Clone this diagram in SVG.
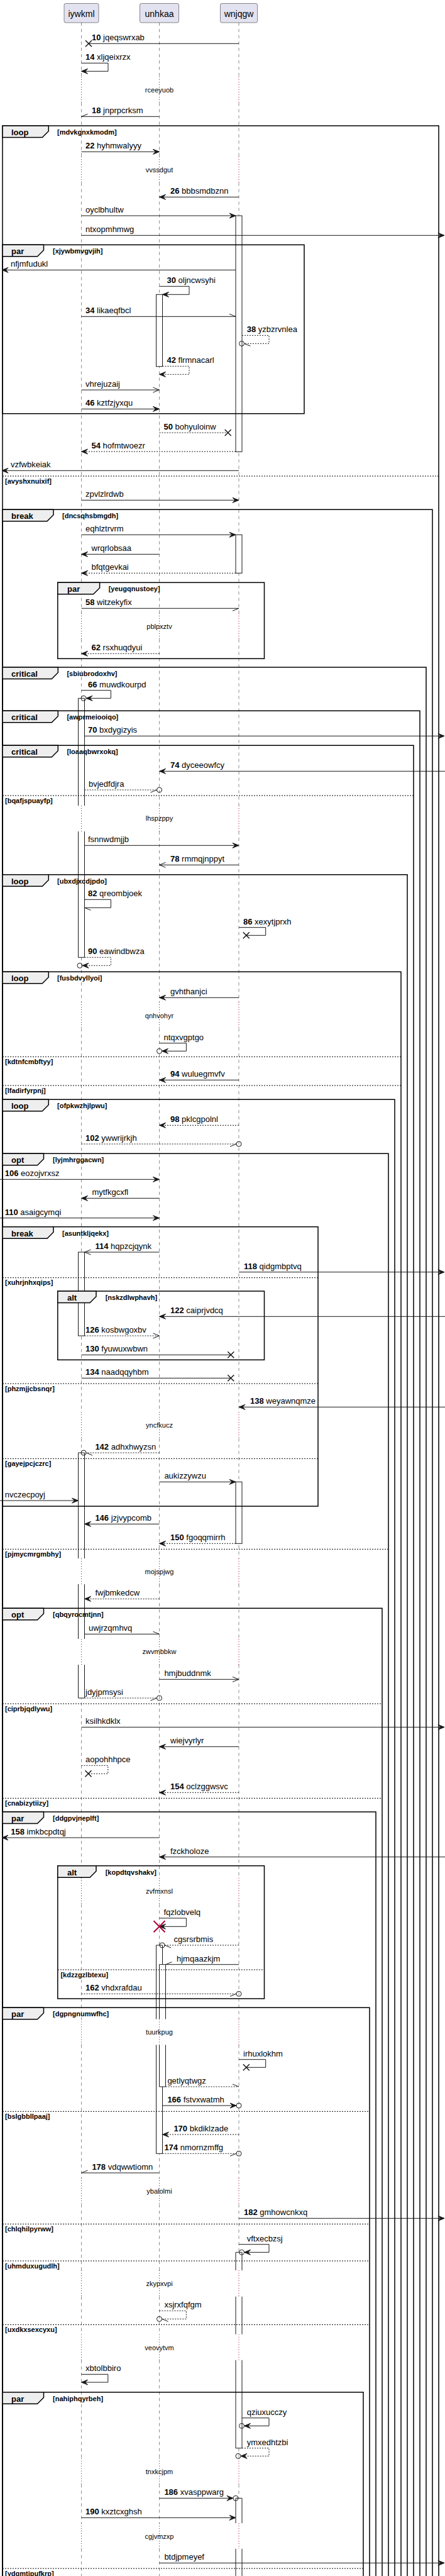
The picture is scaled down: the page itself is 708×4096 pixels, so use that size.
<svg xmlns="http://www.w3.org/2000/svg" width="708" height="4096" viewBox="0 0 708 4096">
<style>
text{font-family:"Liberation Sans",Arial,sans-serif;fill:#000}
.m{font-size:13px}
.b{font-weight:bold}
.d{font-size:11px}
.g{font-size:11px;font-weight:bold}
.t{font-size:13px;font-weight:bold}
.p{font-size:14px}
.ln{stroke:#181818;stroke-width:1;fill:none}
.ds{stroke-dasharray:2,2}
.fr{fill:none;stroke:#000;stroke-width:1.5}
.tab{fill:#EEEEEE;stroke:#000;stroke-width:1.5}
.sep{stroke:#000;stroke-width:1;stroke-dasharray:2,2;fill:none}
.ll{stroke:#181818;stroke-width:0.5;stroke-dasharray:5,5;fill:none}
.dl{stroke:#A80036;stroke-width:1;stroke-dasharray:1,3;fill:none}
.act{fill:none;stroke:#181818;stroke-width:1}
.af{fill:#fff;stroke:none}
.pb{fill:#E2E2F0;stroke:#181818;stroke-width:0.5}
</style>
<defs>
<polygon id="hf" points="-10,-4 0,0 -10,4 -6,0" fill="#181818" stroke="#181818" stroke-width="1"/>
<path id="ho" d="M-10,-4 L0,0 L-10,4" fill="none" stroke="#181818" stroke-width="1"/>
<path id="hu" d="M-10,-4 L0,0" fill="none" stroke="#181818" stroke-width="1"/>
<path id="hl" d="M-10,4 L0,0" fill="none" stroke="#181818" stroke-width="1"/>
<path id="hx" d="M-5,-5 L5,5 M-5,5 L5,-5" fill="none" stroke="#181818" stroke-width="1.5"/>
<circle id="hc" r="4" fill="none" stroke="#181818" stroke-width="1"/>
<path id="llp" class="ll" d="M0,36V122M0,163.5V249M0,290.5V975M0,1016.5V1281M0,1322V1593M0,1635V2245M0,2287V2478M0,2519V2606M0,2647V2986M0,3027.7V3210.5M0,3251.5V3463M0,3505V3610M0,3651.7V3711.7M0,3752.7V3908.7M0,3950.3V4012M0,4052.7V4096"/>
<path id="dlp" class="dl" d="M0,122V163.5M0,249V290.5M0,975V1016.5M0,1281V1322M0,1593V1635M0,2245V2287M0,2478V2519M0,2606V2647M0,2986V3027.7M0,3210.5V3251.5M0,3463V3505M0,3610V3651.7M0,3711.7V3752.7M0,3908.7V3950.3M0,4012V4052.7"/>
</defs>
<rect width="708" height="4096" fill="#fff"/>

<g id="lifelines">
<use href="#llp" x="129.5"/><use href="#llp" x="253.5"/><use href="#llp" x="380"/>
<use href="#dlp" x="129.5"/><use href="#dlp" x="253.5"/><use href="#dlp" x="380"/>
</g>

<g id="p-iywkml"><rect class="pb" x="102" y="5.5" width="55" height="30.5" rx="2.5"/><text class="p" x="129.5" y="26.5" text-anchor="middle">iywkml</text></g>
<g id="p-unhkaa"><rect class="pb" x="222.5" y="5.5" width="62" height="30.5" rx="2.5"/><text class="p" x="253.5" y="26.5" text-anchor="middle">unhkaa</text></g>
<g id="p-wnjqgw"><rect class="pb" x="350.5" y="5.5" width="59" height="30.5" rx="2.5"/><text class="p" x="380" y="26.5" text-anchor="middle">wnjqgw</text></g>

<g id="activations">
<rect class="af" x="375" y="343" width="10" height="375.3"/><rect class="act" x="375" y="343" width="10" height="375.3"/>
<rect class="af" x="248.5" y="468.3" width="10" height="114.4"/><rect class="act" x="248.5" y="468.3" width="10" height="114.4"/>
<rect class="af" x="375" y="850.3" width="10" height="61"/><rect class="act" x="375" y="850.3" width="10" height="61"/>
<rect class="af" x="124.5" y="1110.3" width="10" height="170.7"/><path class="act" d="M124.5,1281V1110.3H134.5V1281"/>
<rect class="af" x="124.5" y="1322" width="10" height="200.3"/><path class="act" d="M124.5,1322V1522.3H134.5V1322"/>
<rect class="af" x="124.5" y="1991" width="10" height="133"/><rect class="act" x="124.5" y="1991" width="10" height="133"/>
<rect class="af" x="124.5" y="2310" width="10" height="168"/><path class="act" d="M124.5,2478V2310H134.5V2478"/>
<rect class="af" x="124.5" y="2519" width="10" height="87"/><path class="act" d="M124.5,2519V2606M134.5,2519V2606"/>
<rect class="af" x="124.5" y="2647" width="10" height="53"/><path class="act" d="M124.5,2647V2700H134.5V2647"/>
<rect class="af" x="375" y="2356.3" width="10" height="98"/><rect class="act" x="375" y="2356.3" width="10" height="98"/>
<rect class="af" x="248.5" y="3093" width="10" height="117.5"/><path class="act" d="M248.5,3210.5V3093H258.5V3210.5"/>
<rect class="af" x="248.5" y="3251.5" width="10" height="172.8"/><path class="act" d="M248.5,3251.5V3424.3H258.5V3251.5"/>
<rect class="af" x="253.5" y="3123.7" width="10" height="86.8"/><path class="act" d="M253.5,3210.5V3123.7H263.5V3210.5"/>
<rect class="af" x="253.5" y="3251.5" width="10" height="66.5"/><path class="act" d="M253.5,3251.5V3318H263.5V3251.5"/>
<rect class="af" x="375" y="3581.3" width="10" height="28.7"/><path class="act" d="M375,3610V3581.3H385V3610"/>
<rect class="af" x="375" y="3651.7" width="10" height="60"/><path class="act" d="M375,3651.7V3711.7M385,3651.7V3711.7"/>
<rect class="af" x="375" y="3752.7" width="10" height="140"/><path class="act" d="M375,3752.7V3892.7H385V3752.7"/>
<rect class="af" x="375" y="3972.3" width="10" height="39.7"/><path class="act" d="M375,4012V3972.3H385V4012"/>
<rect class="af" x="375" y="4052.7" width="10" height="50"/><path class="act" d="M375,4052.7V4100M385,4052.7V4100"/>
</g>

<g id="frames">
<g id="f-loop1"><path class="fr" d="M4,4110V200H698V4110"/><polygon class="tab" points="4,200 77.3,200 77.3,208.5 67.3,218.5 4,218.5"/><text class="t" x="18" y="215">loop</text><text class="g" x="91" y="214">[mdvkgnxkmodm]</text>
<path class="sep" d="M4,757H698"/><text class="g" x="8" y="768.5">[avyshxnuixif]</text></g>
<g id="f-par1"><rect class="fr" x="4" y="389.3" width="480" height="268.4"/><polygon class="tab" points="4,389.3 69.5,389.3 69.5,397.8 59.5,407.8 4,407.8"/><text class="t" x="18" y="404.3">par</text><text class="g" x="84" y="403.3">[xjywbmvgvjih]</text></g>
<g id="f-break1"><path class="fr" d="M4,4110V810.3H688V4110"/><polygon class="tab" points="4,810.3 85,810.3 85,818.8 75,828.8 4,828.8"/><text class="t" x="18" y="825.3">break</text><text class="g" x="99" y="824.3">[dncsqhsbmgdh]</text></g>
<g id="f-par2"><rect class="fr" x="91.8" y="926.3" width="328.7" height="121"/><polygon class="tab" points="91.8,926.3 158.6,926.3 158.6,934.8 148.6,944.8 91.8,944.8"/><text class="t" x="107" y="941.3">par</text><text class="g" x="172.7" y="940.3">[yeugqnustoey]</text></g>
<g id="f-crit1"><path class="fr" d="M4,4110V1061H678V4110"/><polygon class="tab" points="4,1061 92.3,1061 92.3,1069.5 82.3,1079.5 4,1079.5"/><text class="t" x="18" y="1076">critical</text><text class="g" x="106.4" y="1075">[sbiubrodoxhv]</text></g>
<g id="f-crit2"><path class="fr" d="M4,4110V1130.3H668V4110"/><polygon class="tab" points="4,1130.3 92.3,1130.3 92.3,1138.8 82.3,1148.8 4,1148.8"/><text class="t" x="18" y="1145.3">critical</text><text class="g" x="106.4" y="1144.3">[awprmeiooiqo]</text></g>
<g id="f-crit3"><path class="fr" d="M4,4110V1185.3H658V4110"/><polygon class="tab" points="4,1185.3 92.3,1185.3 92.3,1193.8 82.3,1203.8 4,1203.8"/><text class="t" x="18" y="1200.3">critical</text><text class="g" x="106.4" y="1199.3">[loaaqbwrxokq]</text>
<path class="sep" d="M4,1265H658"/><text class="g" x="8" y="1276.5">[bqafjspuayfp]</text></g>
<g id="f-loop2"><path class="fr" d="M4,4110V1390.7H648V4110"/><polygon class="tab" points="4,1390.7 77.3,1390.7 77.3,1399.2 67.3,1409.2 4,1409.2"/><text class="t" x="18" y="1405.7">loop</text><text class="g" x="91" y="1404.7">[ubxdjxcdjpdo]</text></g>
<g id="f-loop3"><path class="fr" d="M4,4110V1545.3H638V4110"/><polygon class="tab" points="4,1545.3 77.3,1545.3 77.3,1553.8 67.3,1563.8 4,1563.8"/><text class="t" x="18" y="1560.3">loop</text><text class="g" x="91" y="1559.3">[fusbdvyllyoi]</text>
<path class="sep" d="M4,1680.3H638"/><text class="g" x="8" y="1691.8">[kdtnfcmbftyy]</text>
<path class="sep" d="M4,1726H638"/><text class="g" x="8" y="1737.5">[lfadirfyrpnj]</text></g>
<g id="f-loop4"><path class="fr" d="M4,4110V1748.3H628V4110"/><polygon class="tab" points="4,1748.3 77.3,1748.3 77.3,1756.8 67.3,1766.8 4,1766.8"/><text class="t" x="18" y="1763.3">loop</text><text class="g" x="91" y="1762.3">[ofpkwzhjlpwu]</text></g>
<g id="f-opt1"><path class="fr" d="M4,4110V1834.3H618V4110"/><polygon class="tab" points="4,1834.3 69.5,1834.3 69.5,1842.8 59.5,1852.8 4,1852.8"/><text class="t" x="18" y="1849.3">opt</text><text class="g" x="84" y="1848.3">[lyjmhrggacwn]</text>
<path class="sep" d="M4,2463.3H618"/><text class="g" x="8" y="2474.8">[pjmycmrgmbhy]</text></g>
<g id="f-break2"><rect class="fr" x="4" y="1950.7" width="502" height="444.3"/><polygon class="tab" points="4,1950.7 85,1950.7 85,1959.2 75,1969.2 4,1969.2"/><text class="t" x="18" y="1965.7">break</text><text class="g" x="99" y="1964.7">[asuntkljqekx]</text>
<path class="sep" d="M4,2031.7H506"/><text class="g" x="8" y="2043.2">[xuhrjnhxqips]</text>
<path class="sep" d="M4,2200H506"/><text class="g" x="8" y="2211.5">[phzmjjcbsnqr]</text>
<path class="sep" d="M4,2319.3H506"/><text class="g" x="8" y="2330.8">[gayejpcjczrc]</text></g>
<g id="f-alt1"><rect class="fr" x="91.8" y="2053" width="328.7" height="109.3"/><polygon class="tab" points="91.8,2053 153,2053 153,2061.5 143,2071.5 91.8,2071.5"/><text class="t" x="107" y="2068">alt</text><text class="g" x="167.7" y="2067">[nskzdlwphavh]</text></g>
<g id="f-opt2"><path class="fr" d="M4,4110V2557.3H608V4110"/><polygon class="tab" points="4,2557.3 69.5,2557.3 69.5,2565.8 59.5,2575.8 4,2575.8"/><text class="t" x="18" y="2572.3">opt</text><text class="g" x="84" y="2571.3">[qbqyrocmtjnn]</text>
<path class="sep" d="M4,2709H608"/><text class="g" x="8" y="2720.5">[ciprbjqdlywu]</text>
<path class="sep" d="M4,2859.3H608"/><text class="g" x="8" y="2870.8">[cnabizytiizy]</text></g>
<g id="f-par3"><path class="fr" d="M4,4110V2881H598V4110"/><polygon class="tab" points="4,2881 69.5,2881 69.5,2889.5 59.5,2899.5 4,2899.5"/><text class="t" x="18" y="2896">par</text><text class="g" x="84" y="2895">[ddgpvjneplft]</text></g>
<g id="f-alt2"><rect class="fr" x="91.8" y="2966.7" width="328.7" height="211.3"/><polygon class="tab" points="91.8,2966.7 153,2966.7 153,2975.2 143,2985.2 91.8,2985.2"/><text class="t" x="107" y="2981.7">alt</text><text class="g" x="167.7" y="2980.7">[kopdtqvshakv]</text>
<path class="sep" d="M91.8,3132H420.5"/><text class="g" x="96.4" y="3143.5">[kdzzgzlbtexu]</text></g>
<g id="f-par4"><path class="fr" d="M4,4110V3192.3H588V4110"/><polygon class="tab" points="4,3192.3 69.5,3192.3 69.5,3200.8 59.5,3210.8 4,3210.8"/><text class="t" x="18" y="3207.3">par</text><text class="g" x="84" y="3206.3">[dgpngnumwfhc]</text>
<path class="sep" d="M4,3357.3H588"/><text class="g" x="8" y="3368.8">[bslgbbllpaaj]</text>
<path class="sep" d="M4,3536.3H588"/><text class="g" x="8" y="3547.8">[chlqhilpyrww]</text>
<path class="sep" d="M4,3595H588"/><text class="g" x="8" y="3606.5">[uhmduxugudlh]</text>
<path class="sep" d="M4,3696.3H588"/><text class="g" x="8" y="3707.8">[uxdkxsexcyxu]</text></g>
<g id="f-par5"><path class="fr" d="M4,4110V3803.7H578V4110"/><polygon class="tab" points="4,3803.7 69.5,3803.7 69.5,3812.2 59.5,3822.2 4,3822.2"/><text class="t" x="18" y="3818.7">par</text><text class="g" x="84" y="3817.7">[nahiphqyrbeh]</text>
<path class="sep" d="M4,4084H578"/><text class="g" x="8" y="4095.5">[ydqmtipufkrp]</text></g>
</g>

<g id="delays">
<text class="d" x="253.5" y="147" text-anchor="middle">rceeyuob</text>
<text class="d" x="253.5" y="274" text-anchor="middle">vvssdgut</text>
<text class="d" x="253.5" y="1000" text-anchor="middle">pblpxztv</text>
<text class="d" x="253.5" y="1305.3" text-anchor="middle">lhspzppy</text>
<text class="d" x="253.5" y="1618.7" text-anchor="middle">qnhvohyr</text>
<text class="d" x="253.5" y="2270.3" text-anchor="middle">yncfkucz</text>
<text class="d" x="253.5" y="2503.3" text-anchor="middle">mojspjwg</text>
<text class="d" x="253.5" y="2630" text-anchor="middle">zwvmbbkw</text>
<text class="d" x="253.5" y="3011" text-anchor="middle">zvfmxnsl</text>
<text class="d" x="253.5" y="3235.3" text-anchor="middle">tuurkpug</text>
<text class="d" x="253.5" y="3488.3" text-anchor="middle">ybalolmi</text>
<text class="d" x="253.5" y="3635" text-anchor="middle">zkypxvpi</text>
<text class="d" x="253.5" y="3736.7" text-anchor="middle">veovytvm</text>
<text class="d" x="253.5" y="3933.7" text-anchor="middle">tnxkcjpm</text>
<text class="d" x="253.5" y="4037" text-anchor="middle">cgjvmzxp</text>
</g>

<g id="connectors">
<g><path class="ln" d="M380,69.3H141"/><use href="#hx" x="141" y="69.3"/><text class="m" x="146" y="64.3"><tspan class="b">10</tspan> jqeqswrxab</text></g>
<g><path class="ln" d="M129.5,100.3H172V113.3H129.5"/><use href="#hf" transform="translate(129.5,113.3) scale(-1,1)"/><text class="m" x="136" y="95.3"><tspan class="b">14</tspan> xljqeixrzx</text></g>
<g><path class="ln" d="M253.5,185.3H129.5"/><use href="#hu" transform="translate(129.5,185.3) scale(-1,1)"/><text class="m" x="146" y="180.3"><tspan class="b">18</tspan> jnprpcrksm</text></g>
<g><path class="ln" d="M129.5,241.3H253.5"/><use href="#hf" x="253.5" y="241.3"/><text class="m" x="136" y="236.3"><tspan class="b">22</tspan> hyhmwalyyy</text></g>
<g><path class="ln" d="M380,313.3H253.5"/><use href="#hf" transform="translate(253.5,313.3) scale(-1,1)"/><text class="m" x="271" y="308.3"><tspan class="b">26</tspan> bbbsmdbznn</text></g>
<g><path class="ln" d="M129.5,343H375"/><use href="#hf" x="375" y="343"/><text class="m" x="136" y="338">oyclbhultw</text></g>
<g><path class="ln" d="M129.5,374.3H707"/><use href="#hf" x="707" y="374.3"/><text class="m" x="136" y="369.3">ntxopmhmwg</text></g>
<g><path class="ln" d="M375,429.3H3"/><use href="#hf" transform="translate(3,429.3) scale(-1,1)"/><text class="m" x="17" y="424.3">nfjmfudukl</text></g>
<g><path class="ln" d="M253.5,455.3H301V468.3H258.5"/><use href="#hf" transform="translate(258.5,468.3) scale(-1,1)"/><text class="m" x="265.5" y="450.3"><tspan class="b">30</tspan> oljncwsyhi</text></g>
<g><path class="ln" d="M129.5,503.3H375"/><use href="#hu" x="375" y="503.3"/><text class="m" x="136" y="498.3"><tspan class="b">34</tspan> likaeqfbcl</text></g>
<g><path class="ln ds" d="M385,533.3H428V546.3H388.5"/><use href="#hl" transform="translate(388.5,546.3) scale(-1,1)"/><use href="#hc" x="384.5" y="546.3"/><text class="m" x="392.7" y="528.3"><tspan class="b">38</tspan> yzbzrvnlea</text></g>
<g><path class="ln ds" d="M258.5,582.3H301V595.3H253.5"/><use href="#hf" transform="translate(253.5,595.3) scale(-1,1)"/><text class="m" x="265.5" y="577.3"><tspan class="b">42</tspan> flrmnacarl</text></g>
<g><path class="ln" d="M129.5,620H253.5"/><use href="#ho" x="253.5" y="620"/><text class="m" x="136" y="615">vhrejuzaij</text></g>
<g><path class="ln" d="M129.5,650.3H253.5"/><use href="#hf" x="253.5" y="650.3"/><text class="m" x="136" y="645.3"><tspan class="b">46</tspan> kztfzjyxqu</text></g>
<g><path class="ln ds" d="M253.5,688H362.7"/><use href="#hx" x="362.7" y="688"/><text class="m" x="260.5" y="683"><tspan class="b">50</tspan> bohyuloinw</text></g>
<g><path class="ln ds" d="M375,718H129.5"/><use href="#hf" transform="translate(129.5,718) scale(-1,1)"/><text class="m" x="145.5" y="713"><tspan class="b">54</tspan> hofmtwoezr</text></g>
<g><path class="ln" d="M380,748.3H3"/><use href="#hf" transform="translate(3,748.3) scale(-1,1)"/><text class="m" x="17" y="743.3">vzfwbkeiak</text></g>
<g><path class="ln" d="M129.5,795.3H380"/><use href="#hf" x="380" y="795.3"/><text class="m" x="136" y="790.3">zpvlzlrdwb</text></g>
<g><path class="ln" d="M129.5,850.3H375"/><use href="#hf" x="375" y="850.3"/><text class="m" x="136" y="845.3">eqhlztrvrm</text></g>
<g><path class="ln" d="M253.5,881.3H129.5"/><use href="#hf" transform="translate(129.5,881.3) scale(-1,1)"/><text class="m" x="145.5" y="876.3">wrqrlobsaa</text></g>
<g><path class="ln ds" d="M375,911.3H129.5"/><use href="#hf" transform="translate(129.5,911.3) scale(-1,1)"/><text class="m" x="145.5" y="906.3">bfqtgevkai</text></g>
<g><path class="ln" d="M129.5,967.3H380"/><use href="#hl" x="380" y="967.3"/><text class="m" x="136" y="962.3"><tspan class="b">58</tspan> witzekyfix</text></g>
<g><path class="ln ds" d="M253.5,1039.3H129.5"/><use href="#hf" transform="translate(129.5,1039.3) scale(-1,1)"/><text class="m" x="145.5" y="1034.3"><tspan class="b">62</tspan> rsxhuqdyui</text></g>
<g><path class="ln" d="M129.5,1097.7H176.4V1110.3H137"/><use href="#hf" transform="translate(137,1110.3) scale(-1,1)"/><use href="#hc" x="133" y="1110.3"/><text class="m" x="140" y="1092.7"><tspan class="b">66</tspan> muwdkourpd</text></g>
<g><path class="ln" d="M134.5,1170.3H707"/><use href="#hf" x="707" y="1170.3"/><text class="m" x="140" y="1165.3"><tspan class="b">70</tspan> bxdygizyis</text></g>
<g><path class="ln" d="M708,1226.3H253.5"/><use href="#hf" transform="translate(253.5,1226.3) scale(-1,1)"/><text class="m" x="271" y="1221.3"><tspan class="b">74</tspan> dyceeowfcy</text></g>
<g><path class="ln ds" d="M134.5,1256H249.5"/><use href="#hl" x="249.5" y="1256"/><use href="#hc" x="253.5" y="1256"/><text class="m" x="141" y="1251">bvjedfdjra</text></g>
<g><path class="ln" d="M134.5,1344.3H380"/><use href="#hf" x="380" y="1344.3"/><text class="m" x="140" y="1339.3">fsnnwdmjjb</text></g>
<g><path class="ln" d="M380,1375.3H253.5"/><use href="#ho" transform="translate(253.5,1375.3) scale(-1,1)"/><text class="m" x="271" y="1370.3"><tspan class="b">78</tspan> rmmqjnppyt</text></g>
<g><path class="ln" d="M134.5,1430.3H176.4V1443.3H134.5"/><use href="#hl" transform="translate(134.5,1443.3) scale(-1,1)"/><text class="m" x="140" y="1425.3"><tspan class="b">82</tspan> qreombjoek</text></g>
<g><path class="ln" d="M380,1474.7H422.7V1487.3H391.8"/><use href="#hx" x="391.8" y="1487.3"/><text class="m" x="387" y="1469.7"><tspan class="b">86</tspan> xexytjprxh</text></g>
<g><path class="ln ds" d="M134.5,1522.3H176.4V1535.3H131"/><use href="#hf" transform="translate(131,1535.3) scale(-1,1)"/><use href="#hc" x="127" y="1535.3"/><text class="m" x="140" y="1517.3"><tspan class="b">90</tspan> eawindbwza</text></g>
<g><path class="ln" d="M380,1586.3H253.5"/><use href="#hf" transform="translate(253.5,1586.3) scale(-1,1)"/><text class="m" x="271" y="1581.3">gvhthanjci</text></g>
<g><path class="ln" d="M253.5,1658.7H296.4V1671.3H257.5"/><use href="#hf" transform="translate(257.5,1671.3) scale(-1,1)"/><use href="#hc" x="253.5" y="1671.3"/><text class="m" x="260.5" y="1653.7">ntqxvgptgo</text></g>
<g><path class="ln" d="M380,1717.3H253.5"/><use href="#hf" transform="translate(253.5,1717.3) scale(-1,1)"/><text class="m" x="271" y="1712.3"><tspan class="b">94</tspan> wuluegmvfv</text></g>
<g><path class="ln ds" d="M380,1789.3H253.5"/><use href="#hf" transform="translate(253.5,1789.3) scale(-1,1)"/><text class="m" x="271" y="1784.3"><tspan class="b">98</tspan> pklcgpolnl</text></g>
<g><path class="ln ds" d="M129.5,1819H376"/><use href="#hl" x="376" y="1819"/><use href="#hc" x="380" y="1819"/><text class="m" x="136" y="1814"><tspan class="b">102</tspan> ywwrijrkjh</text></g>
<g><path class="ln" d="M0,1875.3H253.5"/><use href="#hf" x="253.5" y="1875.3"/><text class="m" x="7.7" y="1870.3"><tspan class="b">106</tspan> eozojvrxsz</text></g>
<g><path class="ln" d="M253.5,1905.3H129.5"/><use href="#hf" transform="translate(129.5,1905.3) scale(-1,1)"/><text class="m" x="146.4" y="1900.3">mytfkgcxfl</text></g>
<g><path class="ln" d="M0,1936.7H253.5"/><use href="#hf" x="253.5" y="1936.7"/><text class="m" x="7.7" y="1931.7"><tspan class="b">110</tspan> asaigcymqi</text></g>
<g><path class="ln" d="M253.5,1991H134.5"/><use href="#ho" transform="translate(134.5,1991) scale(-1,1)"/><text class="m" x="151.4" y="1986"><tspan class="b">114</tspan> hqpzcjqynk</text></g>
<g><path class="ln" d="M380,2022.7H707"/><use href="#hf" x="707" y="2022.7"/><text class="m" x="388" y="2017.7"><tspan class="b">118</tspan> qidgmbptvq</text></g>
<g><path class="ln" d="M708,2093.3H253.5"/><use href="#hf" transform="translate(253.5,2093.3) scale(-1,1)"/><text class="m" x="271" y="2088.3"><tspan class="b">122</tspan> caiprjvdcq</text></g>
<g><path class="ln ds" d="M134.5,2124H253.5"/><use href="#ho" x="253.5" y="2124"/><text class="m" x="136" y="2119"><tspan class="b">126</tspan> kosbwgoxbv</text></g>
<g><path class="ln" d="M129.5,2154.3H367.3"/><use href="#hx" x="367.3" y="2154.3"/><text class="m" x="136" y="2149.3"><tspan class="b">130</tspan> fyuwuxwbwn</text></g>
<g><path class="ln" d="M129.5,2191.3H367.3"/><use href="#hx" x="367.3" y="2191.3"/><text class="m" x="136" y="2186.3"><tspan class="b">134</tspan> naadqqyhbm</text></g>
<g><path class="ln" d="M708,2237.3H380"/><use href="#hf" transform="translate(380,2237.3) scale(-1,1)"/><text class="m" x="398" y="2232.3"><tspan class="b">138</tspan> weyawnqmze</text></g>
<g><path class="ln ds" d="M253.5,2310H137"/><use href="#hl" transform="translate(137,2310) scale(-1,1)"/><use href="#hc" x="133" y="2310"/><text class="m" x="151.4" y="2305"><tspan class="b">142</tspan> adhxhwyzsn</text></g>
<g><path class="ln" d="M253.5,2356.3H375"/><use href="#hf" x="375" y="2356.3"/><text class="m" x="261.4" y="2351.3">aukizzywzu</text></g>
<g><path class="ln" d="M0,2386H124.5"/><use href="#hf" x="124.5" y="2386"/><text class="m" x="7.7" y="2381">nvczecpoyj</text></g>
<g><path class="ln" d="M253.5,2423.3H134.5"/><use href="#hf" transform="translate(134.5,2423.3) scale(-1,1)"/><text class="m" x="151.4" y="2418.3"><tspan class="b">146</tspan> jzjvypcomb</text></g>
<g><path class="ln ds" d="M375,2454.3H253.5"/><use href="#hf" transform="translate(253.5,2454.3) scale(-1,1)"/><text class="m" x="271" y="2449.3"><tspan class="b">150</tspan> fgoqqmirrh</text></g>
<g><path class="ln ds" d="M253.5,2542.3H134.5"/><use href="#hf" transform="translate(134.5,2542.3) scale(-1,1)"/><text class="m" x="151.4" y="2537.3">fwjbmkedcw</text></g>
<g><path class="ln" d="M134.5,2598.3H253.5"/><use href="#hu" x="253.5" y="2598.3"/><text class="m" x="141" y="2593.3">uwjrzqmhvq</text></g>
<g><path class="ln" d="M253.5,2670.3H380"/><use href="#ho" x="380" y="2670.3"/><text class="m" x="261.4" y="2665.3">hmjbuddnmk</text></g>
<g><path class="ln ds" d="M134.5,2700H249.5"/><use href="#hl" x="249.5" y="2700"/><use href="#hc" x="253.5" y="2700"/><text class="m" x="136" y="2695">jdyjpmsysi</text></g>
<g><path class="ln" d="M129.5,2746.3H707"/><use href="#hf" x="707" y="2746.3"/><text class="m" x="136" y="2741.3">ksilhkdklx</text></g>
<g><path class="ln" d="M380,2777.3H253.5"/><use href="#hf" transform="translate(253.5,2777.3) scale(-1,1)"/><text class="m" x="271" y="2772.3">wiejvyrlyr</text></g>
<g><path class="ln ds" d="M129.5,2807.3H171.8V2820.3H140.5"/><use href="#hx" x="140.5" y="2820.3"/><text class="m" x="136" y="2802.3">aopohhhpce</text></g>
<g><path class="ln ds" d="M380,2850.3H253.5"/><use href="#hf" transform="translate(253.5,2850.3) scale(-1,1)"/><text class="m" x="271" y="2845.3"><tspan class="b">154</tspan> oclzggwsvc</text></g>
<g><path class="ln" d="M253.5,2922H3"/><use href="#hf" transform="translate(3,2922) scale(-1,1)"/><text class="m" x="17.3" y="2917"><tspan class="b">158</tspan> imkbcpdtqj</text></g>
<g><path class="ln" d="M708,2952.7H253.5"/><use href="#hf" transform="translate(253.5,2952.7) scale(-1,1)"/><text class="m" x="271" y="2947.7">fzckholoze</text></g>
<g><path class="ln" d="M253.5,3050H296.4V3063.3H253.5"/><use href="#hf" transform="translate(253.5,3063.3) scale(-1,1)"/><path d="M244.5,3054.3L262.5,3072.3M262.5,3054.3L244.5,3072.3" fill="none" stroke="#A80036" stroke-width="2"/><text class="m" x="260.5" y="3045">fqzlobvelq</text></g>
<g><path class="ln ds" d="M380,3093H262"/><use href="#hl" transform="translate(262,3093) scale(-1,1)"/><use href="#hc" x="258" y="3093"/><text class="m" x="276.4" y="3088">cgsrsrbmis</text></g>
<g><path class="ln" d="M380,3123.7H263.5"/><use href="#hu" transform="translate(263.5,3123.7) scale(-1,1)"/><text class="m" x="281" y="3118.7">hjmqaazkjm</text></g>
<g><path class="ln ds" d="M129.5,3170.3H376"/><use href="#hl" x="376" y="3170.3"/><use href="#hc" x="380" y="3170.3"/><text class="m" x="136" y="3165.3"><tspan class="b">162</tspan> vhdxrafdau</text></g>
<g><path class="ln" d="M380,3274.7H422.7V3287.3H391.8"/><use href="#hx" x="391.8" y="3287.3"/><text class="m" x="387" y="3269.7">irhuxlokhm</text></g>
<g><path class="ln ds" d="M263.5,3318H380"/><use href="#hu" x="380" y="3318"/><text class="m" x="266.4" y="3313">getlyqtwgz</text></g>
<g><path class="ln" d="M258.5,3348H376"/><use href="#hf" x="376" y="3348"/><use href="#hc" x="380" y="3348"/><text class="m" x="266.4" y="3343"><tspan class="b">166</tspan> fstvxwatmh</text></g>
<g><path class="ln ds" d="M380,3394H258.5"/><use href="#hf" transform="translate(258.5,3394) scale(-1,1)"/><text class="m" x="276.4" y="3389"><tspan class="b">170</tspan> bkdiklzade</text></g>
<g><path class="ln ds" d="M258.5,3424.3H376"/><use href="#hl" x="376" y="3424.3"/><use href="#hc" x="380" y="3424.3"/><text class="m" x="261.4" y="3419.3"><tspan class="b">174</tspan> nmornzmffg</text></g>
<g><path class="ln" d="M253.5,3455H129.5"/><use href="#hu" transform="translate(129.5,3455) scale(-1,1)"/><text class="m" x="146.4" y="3450"><tspan class="b">178</tspan> vdqwwtiomn</text></g>
<g><path class="ln" d="M380,3527.3H707"/><use href="#hf" x="707" y="3527.3"/><text class="m" x="388" y="3522.3"><tspan class="b">182</tspan> gmhowcnkxq</text></g>
<g><path class="ln" d="M380,3568.7H428V3581.3H388.5"/><use href="#hf" transform="translate(388.5,3581.3) scale(-1,1)"/><use href="#hc" x="384.5" y="3581.3"/><text class="m" x="392.7" y="3563.7">vftxecbzsj</text></g>
<g><path class="ln ds" d="M253.5,3674.3H296.4V3687.3H257.5"/><use href="#hl" transform="translate(257.5,3687.3) scale(-1,1)"/><use href="#hc" x="253.5" y="3687.3"/><text class="m" x="261.4" y="3669.3">xsjrxfqfgm</text></g>
<g><path class="ln" d="M129.5,3775.3H171.8V3788H129.5"/><use href="#hf" transform="translate(129.5,3788) scale(-1,1)"/><text class="m" x="136" y="3770.3">xbtolbbiro</text></g>
<g><path class="ln" d="M385,3844.7H428V3857.3H388.5"/><use href="#hf" transform="translate(388.5,3857.3) scale(-1,1)"/><use href="#hc" x="384.5" y="3857.3"/><text class="m" x="392.7" y="3839.7">qziuxucczy</text></g>
<g><path class="ln ds" d="M385,3892.7H428V3905.3H383"/><use href="#hf" transform="translate(383,3905.3) scale(-1,1)"/><use href="#hc" x="379" y="3905.3"/><text class="m" x="392.7" y="3887.7">ymxedhtzbi</text></g>
<g><path class="ln" d="M253.5,3972.3H371"/><use href="#hf" x="371" y="3972.3"/><use href="#hc" x="375" y="3972.3"/><text class="m" x="261.4" y="3967.3"><tspan class="b">186</tspan> xvasppwarg</text></g>
<g><path class="ln" d="M129.5,4003.3H375"/><use href="#hf" x="375" y="4003.3"/><text class="m" x="136" y="3998.3"><tspan class="b">190</tspan> kxztcxghsh</text></g>
<g><path class="ln" d="M253.5,4075.3H707"/><use href="#hf" x="707" y="4075.3"/><text class="m" x="261.4" y="4070.3">btdjpmeyef</text></g>
</g>
</svg>
